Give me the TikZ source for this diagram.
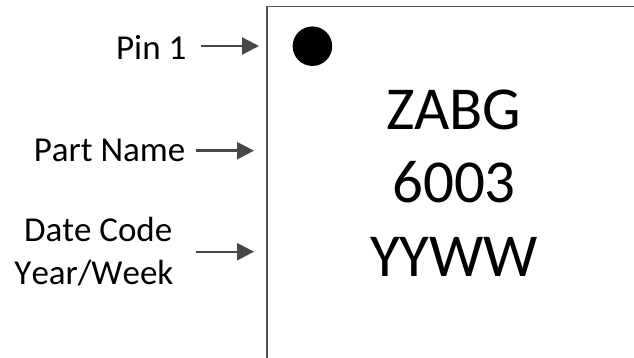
\documentclass[tikz,border=0pt]{standalone}
\usepackage{fontspec}
\setmainfont{Carlito}
\newfontfamily\labfont[Kerning=Off]{Carlito}
\usetikzlibrary{arrows.meta}
\tikzset{
 lab/.style={inner sep=0pt,font=\labfont\fontsize{35}{42}\selectfont,text=black},
 big/.style={inner sep=0pt,font=\fontsize{61}{70}\selectfont,text=black},
 arr/.style={draw=black!72,line width=2.4pt,-{Triangle[length=17pt,width=17pt]}}
}
\begin{document}
\begin{tikzpicture}[x=1pt,y=-1pt]
\useasboundingbox (0,0) rectangle (634,358);
\fill[white] (0,0) rectangle (634,358);
\coordinate (bl) at (266.8,358);
\coordinate (tl) at (266.8,6.8);
\coordinate (tr) at (634,6.8);
\draw[black!68,line width=1.4pt] (bl) -- (tl) -- (tr);
\node[circle,fill=black,minimum size=39.5pt,inner sep=0pt] (pin) at (312.4,46.2) {};
\node[big,anchor=base] (z) at (453.7,129.3) {ZABG};
\node[big,anchor=base] (s) at (454,203) {6003};
\node[big,anchor=base] (y) at (454,276) {YYWW};
\node[lab,anchor=base east] (p1) at (186.5,59.5) {Pin 1};
\node[lab,anchor=base east] (pn) at (185.5,161.7) {Part Name};
\node[lab,anchor=base east] (dc) at (172.5,241.7) {Date Code};
\node[lab,anchor=base east] (yw) at (173.5,284) {Year/Week};
\coordinate (a1) at (259,46);
\coordinate (a2) at (254,150.7);
\coordinate (a3) at (254,251.7);
\coordinate (s1) at (201,46);
\coordinate (s2) at (196,150.7);
\coordinate (s3) at (196,251.7);
\draw[arr] (s1) -- (a1);
\draw[arr] (s2) -- (a2);
\draw[arr] (s3) -- (a3);
\end{tikzpicture}
\end{document}
